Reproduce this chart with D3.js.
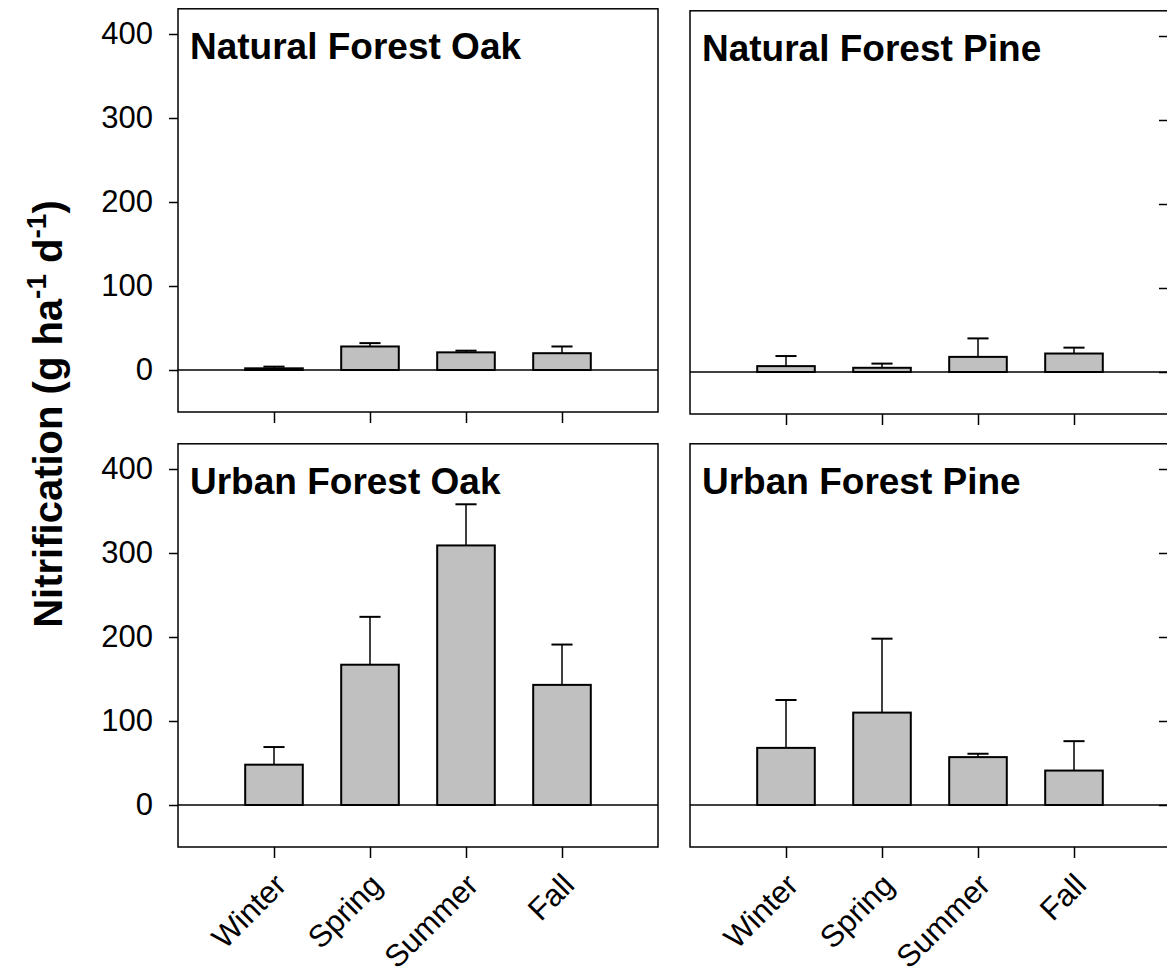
<!DOCTYPE html>
<html><head><meta charset="utf-8">
<script src="https://cdn.jsdelivr.net/npm/d3@7"></script>
<style>
html,body{margin:0;padding:0;background:#fff;}
svg{display:block;font-family:Arial,"Liberation Sans",sans-serif;}
</style></head>
<body>
<svg id="chart" width="1167" height="974"></svg>
<script>
const categories = ["Winter", "Spring", "Summer", "Fall"];
const panelTitles = ["Natural Forest Oak", "Natural Forest Pine", "Urban Forest Oak", "Urban Forest Pine"];
const naturalOakMean = [2, 28, 21, 20];
const naturalOakSE   = [2, 4, 2, 8];
const naturalPineMean = [7, 5, 18, 22];
const naturalPineSE   = [12, 5, 22, 7];
const urbanOakMean = [48, 167, 309, 143];
const urbanOakSE   = [21, 57, 49, 48];
const urbanPineMean = [68, 110, 57, 41];
const urbanPineSE   = [57, 88, 4, 35];
const yTicks = [0, 100, 200, 300, 400];
const yTitle = "Nitrification (g ha";

const panelData = [
  {title: panelTitles[0], mean: naturalOakMean, se: naturalOakSE, col: 0, row: 0},
  {title: panelTitles[1], mean: naturalPineMean, se: naturalPineSE, col: 1, row: 0},
  {title: panelTitles[2], mean: urbanOakMean, se: urbanOakSE, col: 0, row: 1},
  {title: panelTitles[3], mean: urbanPineMean, se: urbanPineSE, col: 1, row: 1}
];

const svg = d3.select("#chart");
const colX = [[178, 658], [690, 1170]];
const rowY = [[412, 8.8], [847, 443.8]];
const rowShift = [[0, 2], [0, 0]];

panelData.forEach(p => {
  const dy = rowShift[p.row][p.col];
  const x = d3.scaleLinear().domain([0, 5]).range(colX[p.col]);
  const y = d3.scaleLinear().domain([-50, 430]).range([rowY[p.row][0] + dy, rowY[p.row][1] + dy]);
  const g = svg.append("g");
  const x0 = x.range()[0], x1 = x.range()[1];
  const yTop = y(430), yBot = y(-50);

  g.append("rect").attr("x", x0).attr("y", yTop).attr("width", x1 - x0).attr("height", yBot - yTop)
    .attr("fill", "none").attr("stroke", "#000").attr("stroke-width", 1.5);

  const idx = d3.range(categories.length);
  g.selectAll("rect.bar").data(idx).join("rect").attr("class", "bar")
    .attr("x", i => x(i + 1 - 0.3))
    .attr("width", i => x(i + 1.3) - x(i + 0.7))
    .attr("y", i => y(p.mean[i]))
    .attr("height", i => y(0) - y(p.mean[i]))
    .attr("fill", "#c0c0c0").attr("stroke", "#000").attr("stroke-width", 2);

  g.selectAll("line.err").data(idx).join("line").attr("class", "err")
    .attr("x1", i => x(i + 1)).attr("x2", i => x(i + 1))
    .attr("y1", i => y(p.mean[i])).attr("y2", i => y(p.mean[i] + p.se[i]))
    .attr("stroke", "#000").attr("stroke-width", 1.5);
  g.selectAll("line.cap").data(idx).join("line").attr("class", "cap")
    .attr("x1", i => x(i + 1 - 0.11)).attr("x2", i => x(i + 1 + 0.11))
    .attr("y1", i => y(p.mean[i] + p.se[i])).attr("y2", i => y(p.mean[i] + p.se[i]))
    .attr("stroke", "#000").attr("stroke-width", 2);

  g.append("line").attr("x1", x0).attr("x2", x1).attr("y1", y(0)).attr("y2", y(0))
    .attr("stroke", "#000").attr("stroke-width", 1.5);

  g.append("text").attr("x", x0 + 12).attr("y", yTop + 50)
    .attr("font-size", 37).attr("font-weight", "bold").text(p.title);

  const xa = g.append("g").attr("transform", `translate(0,${yBot})`)
    .call(d3.axisBottom(x).tickValues([1, 2, 3, 4]).tickSize(11).tickFormat(""));
  xa.select(".domain").remove();
  xa.selectAll(".tick line").attr("stroke-width", 1.5);

  if (p.row === 1) {
    g.selectAll("text.xl").data(idx).join("text").attr("class", "xl")
      .attr("transform", i => `translate(${x(i + 1) + 14},${yBot + 40}) rotate(-45)`)
      .attr("text-anchor", "end").attr("font-size", 31).text(i => categories[i]);
  }

  if (p.col === 0) {
    const ya = g.append("g").attr("transform", `translate(${x0},0)`)
      .call(d3.axisLeft(y).tickValues(yTicks).tickSize(9).tickPadding(16).tickFormat(d3.format("d")));
    ya.select(".domain").remove();
    ya.selectAll(".tick line").attr("stroke-width", 1.5);
    ya.selectAll(".tick text").attr("font-size", 31).attr("font-family", "Arial, 'Liberation Sans', sans-serif").attr("fill", "#000");
  } else {
    const ya = g.append("g").attr("transform", `translate(${x1},0)`)
      .call(d3.axisLeft(y).tickValues(yTicks).tickSize(11).tickFormat(""));
    ya.select(".domain").remove();
    ya.selectAll(".tick line").attr("stroke-width", 1.5);
  }
});

const yt = svg.append("text").attr("transform", "translate(62,414) rotate(-90)")
  .attr("text-anchor", "middle").attr("font-size", 40).attr("font-weight", "bold");
yt.append("tspan").text(yTitle);
yt.append("tspan").attr("font-size", 28).attr("dy", -16).text("-1");
yt.append("tspan").attr("dy", 16).text(" d");
yt.append("tspan").attr("font-size", 28).attr("dy", -16).text("-1");
yt.append("tspan").attr("dy", 16).text(")");
</script>
</body></html>
